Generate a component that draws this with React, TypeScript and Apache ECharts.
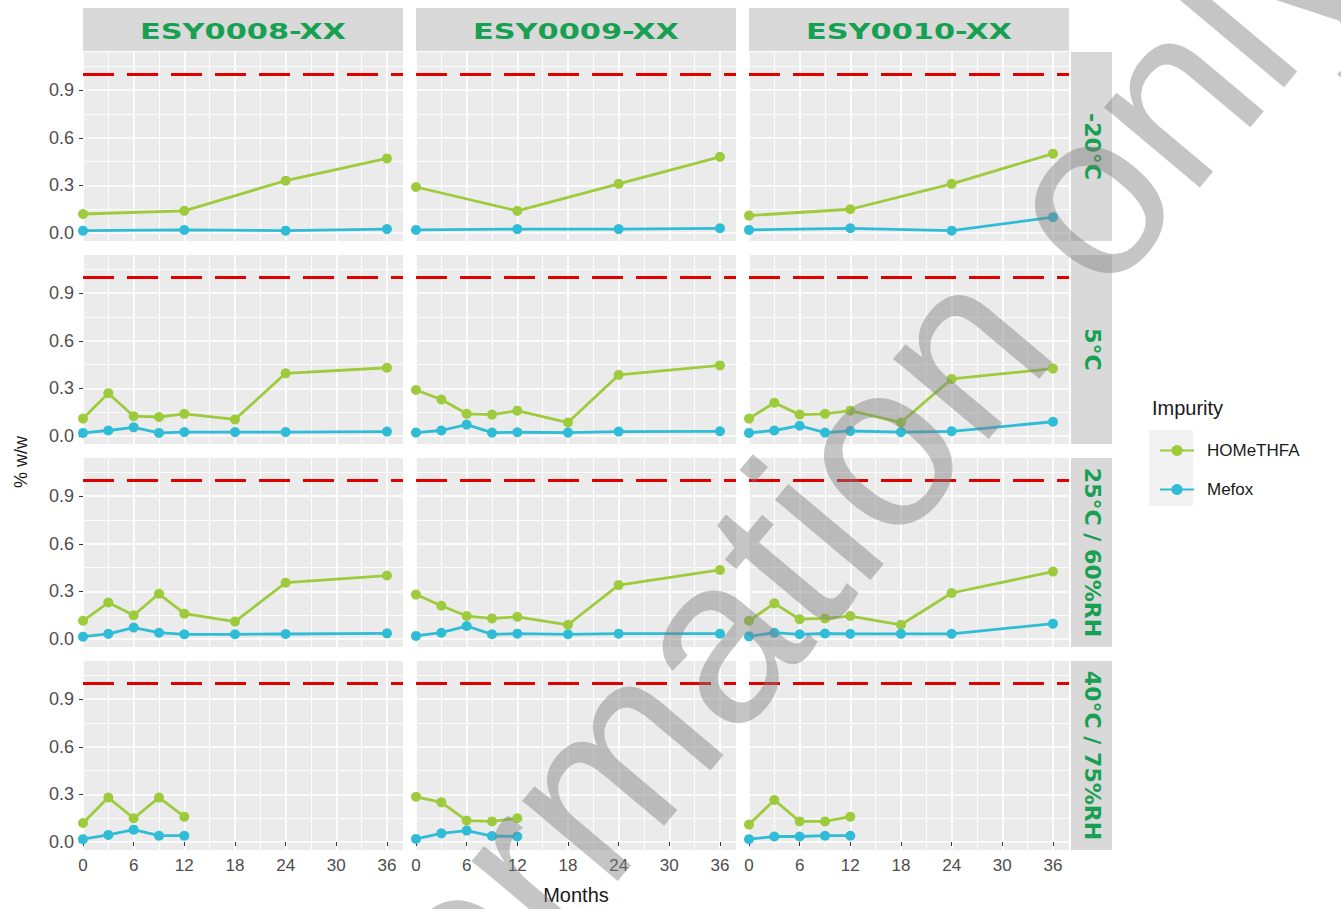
import React, { useEffect, useRef } from "react";
import * as echarts from "echarts";

// ---------- data ----------
const COLUMNS = ["ESY0008-XX", "ESY0009-XX", "ESY0010-XX"];
const ROWS = ["-20°C", "5°C", "25°C / 60%RH", "40°C / 75%RH"];
const SERIES_NAMES = ["HOMeTHFA", "Mefox"];
const LIMIT = 1.0;

const X_MAJOR = [0, 6, 12, 18, 24, 30, 36];
const X_MINOR = [3, 9, 15, 21, 27, 33];
const Y_MAJOR = [0, 0.3, 0.6, 0.9];
const Y_MINOR = [0.15, 0.45, 0.75, 1.05];

const MONTHS_FROZEN = [0, 12, 24, 36];
const MONTHS_FULL = [0, 3, 6, 9, 12, 18, 24, 36];
const MONTHS_ACCEL = [0, 3, 6, 9, 12];

// -20°C
const HOM_M20 = [
  [0.12, 0.14, 0.33, 0.47],
  [0.29, 0.14, 0.31, 0.48],
  [0.11, 0.15, 0.31, 0.5],
];
const MEF_M20 = [
  [0.015, 0.02, 0.015, 0.025],
  [0.02, 0.025, 0.025, 0.03],
  [0.02, 0.03, 0.015, 0.1],
];
// 5°C
const HOM_5 = [
  [0.11, 0.27, 0.125, 0.12, 0.14, 0.105, 0.395, 0.43],
  [0.29, 0.23, 0.14, 0.135, 0.16, 0.085, 0.385, 0.445],
  [0.11, 0.21, 0.135, 0.14, 0.16, 0.085, 0.36, 0.425],
];
const MEF_5 = [
  [0.02, 0.035, 0.055, 0.02, 0.025, 0.025, 0.025, 0.028],
  [0.022, 0.035, 0.072, 0.022, 0.024, 0.022, 0.028, 0.03],
  [0.02, 0.035, 0.065, 0.022, 0.032, 0.025, 0.03, 0.09],
];
// 25°C / 60%RH
const HOM_25 = [
  [0.115, 0.23, 0.15, 0.285, 0.16, 0.11, 0.355, 0.4],
  [0.28, 0.21, 0.145, 0.13, 0.14, 0.09, 0.34, 0.435],
  [0.115, 0.225, 0.125, 0.13, 0.145, 0.09, 0.29, 0.425],
];
const MEF_25 = [
  [0.015, 0.033, 0.072, 0.04, 0.03, 0.03, 0.032, 0.036],
  [0.02, 0.04, 0.082, 0.03, 0.034, 0.03, 0.034, 0.034],
  [0.017, 0.04, 0.03, 0.035, 0.033, 0.033, 0.033, 0.097],
];
// 40°C / 75%RH
const HOM_40 = [
  [0.12, 0.28, 0.15, 0.28, 0.16],
  [0.285, 0.25, 0.135, 0.13, 0.15],
  [0.11, 0.265, 0.13, 0.13, 0.16],
];
const MEF_40 = [
  [0.018, 0.045, 0.078, 0.04, 0.04],
  [0.02, 0.055, 0.072, 0.038, 0.035],
  [0.018, 0.035, 0.035, 0.04, 0.04],
];

const ROW_DATA = [
  { months: MONTHS_FROZEN, hom: HOM_M20, mef: MEF_M20 },
  { months: MONTHS_FULL, hom: HOM_5, mef: MEF_5 },
  { months: MONTHS_FULL, hom: HOM_25, mef: MEF_25 },
  { months: MONTHS_ACCEL, hom: HOM_40, mef: MEF_40 },
];

// ---------- layout / style ----------
const COL_LEFT = [83, 416, 749];
const ROW_TOP = [52, 255, 458, 661];
const PANEL_W = 320;
const PANEL_H = 189;
const X_MIN = 0;
const X_MAX = 37.9;
const Y_MIN = -0.05;
const Y_MAX = 1.14;

const GREEN = "#9DCB3C";
const CYAN = "#2FBCD7";
const STRIP_TEXT = "#17A052";
const FONT = "Liberation Sans";

function buildOption() {
  const grid: any[] = [];
  const xAxis: any[] = [];
  const yAxis: any[] = [];
  const series: any[] = [];
  const graphic: any[] = [];

  ROWS.forEach((rowName, r) => {
    COLUMNS.forEach((colName, c) => {
      const gi = r * 3 + c;
      grid.push({
        left: COL_LEFT[c],
        top: ROW_TOP[r],
        width: PANEL_W,
        height: PANEL_H,
        show: true,
        backgroundColor: "#EBEBEB",
        borderWidth: 0,
      });
      const showX = r === ROWS.length - 1;
      const showY = c === 0;
      xAxis.push({
        gridIndex: gi,
        type: "value",
        min: X_MIN,
        max: X_MAX,
        axisLine: { show: false },
        axisTick: {
          show: showX,
          length: 4,
          customValues: X_MAJOR,
          lineStyle: { color: "#333333", width: 1 },
        },
        axisLabel: {
          show: showX,
          customValues: X_MAJOR,
          color: "#4D4D4D",
          fontSize: 17,
          fontFamily: FONT,
          margin: 7,
        },
        splitLine: { show: true, lineStyle: { color: "#FFFFFF", width: 1.7 } },
      });
      xAxis.push({
        gridIndex: gi,
        type: "value",
        min: X_MIN,
        max: X_MAX,
        axisLine: { show: false },
        axisTick: { show: false, customValues: X_MINOR },
        axisLabel: { show: false },
        splitLine: { show: true, lineStyle: { color: "#FFFFFF", width: 0.9 } },
      });
      yAxis.push({
        gridIndex: gi,
        type: "value",
        min: Y_MIN,
        max: Y_MAX,
        axisLine: { show: false },
        axisTick: {
          show: showY,
          length: 4,
          customValues: Y_MAJOR,
          lineStyle: { color: "#333333", width: 1 },
        },
        axisLabel: {
          show: showY,
          customValues: Y_MAJOR,
          color: "#4D4D4D",
          fontSize: 18,
          fontFamily: FONT,
          margin: 9,
          formatter: (v: number) => v.toFixed(1),
        },
        splitLine: { show: true, lineStyle: { color: "#FFFFFF", width: 1.7 } },
      });
      yAxis.push({
        gridIndex: gi,
        type: "value",
        min: Y_MIN,
        max: Y_MAX,
        axisLine: { show: false },
        axisTick: { show: false, customValues: Y_MINOR },
        axisLabel: { show: false },
        splitLine: { show: true, lineStyle: { color: "#FFFFFF", width: 0.9 } },
      });

      const rd = ROW_DATA[r];
      series.push({
        type: "line",
        name: SERIES_NAMES[0],
        xAxisIndex: 2 * gi,
        yAxisIndex: 2 * gi,
        data: rd.months.map((m, i) => [m, rd.hom[c][i]]),
        symbol: "circle",
        symbolSize: 10,
        lineStyle: { color: GREEN, width: 2.8 },
        itemStyle: { color: GREEN },
        z: 3,
        markLine: {
          silent: true,
          symbol: "none",
          label: { show: false },
          lineStyle: { color: "#E00000", width: 3, type: [31, 13] },
          data: [{ yAxis: LIMIT }],
        },
      });
      series.push({
        type: "line",
        name: SERIES_NAMES[1],
        xAxisIndex: 2 * gi,
        yAxisIndex: 2 * gi,
        data: rd.months.map((m, i) => [m, rd.mef[c][i]]),
        symbol: "circle",
        symbolSize: 10,
        lineStyle: { color: CYAN, width: 2.8 },
        itemStyle: { color: CYAN },
        z: 4,
      });
    });
  });

  // top strips
  COLUMNS.forEach((name, c) => {
    graphic.push({
      type: "rect",
      shape: { x: COL_LEFT[c], y: 8, width: PANEL_W, height: 43 },
      style: { fill: "#D9D9D9" },
    });
    graphic.push({
      type: "text",
      x: COL_LEFT[c] + PANEL_W / 2,
      y: 31,
      scaleX: 1.38,
      style: {
        text: name,
        fill: STRIP_TEXT,
        fontSize: 22,
        fontWeight: "bold",
        fontFamily: "DejaVu Sans",
        align: "center",
        verticalAlign: "middle",
      },
    });
  });
  // right strips
  ROWS.forEach((name, r) => {
    graphic.push({
      type: "rect",
      shape: { x: 1071, y: ROW_TOP[r], width: 41, height: PANEL_H },
      style: { fill: "#D9D9D9" },
    });
    graphic.push({
      type: "text",
      x: 1092,
      y: ROW_TOP[r] + PANEL_H / 2,
      rotation: -Math.PI / 2,
      scaleX: 1.05,
      style: {
        text: name,
        fill: STRIP_TEXT,
        fontSize: 21,
        fontWeight: "bold",
        fontFamily: "DejaVu Sans",
        align: "center",
        verticalAlign: "middle",
      },
    });
  });
  // axis titles
  graphic.push({
    type: "text",
    x: 576,
    y: 895,
    style: {
      text: "Months",
      fill: "#1A1A1A",
      fontSize: 20,
      fontFamily: FONT,
      align: "center",
      verticalAlign: "middle",
    },
  });
  graphic.push({
    type: "text",
    x: 21,
    y: 462,
    rotation: Math.PI / 2,
    style: {
      text: "% w/w",
      fill: "#1A1A1A",
      fontSize: 18,
      fontFamily: FONT,
      align: "center",
      verticalAlign: "middle",
    },
  });
  // legend title and key background
  graphic.push({
    type: "text",
    x: 1152,
    y: 408,
    style: {
      text: "Impurity",
      fill: "#1A1A1A",
      fontSize: 20,
      fontFamily: FONT,
      align: "left",
      verticalAlign: "middle",
    },
  });
  graphic.push({
    type: "rect",
    shape: { x: 1149, y: 430, width: 44, height: 38 },
    style: { fill: "#F2F2F2" },
  });
  graphic.push({
    type: "rect",
    shape: { x: 1149, y: 468, width: 44, height: 38 },
    style: { fill: "#F2F2F2" },
  });
  // watermark
  graphic.push({
    type: "text",
    x: 650,
    y: 715,
    rotation: (50 * Math.PI) / 180,
    z: 100,
    silent: true,
    style: {
      text: "For information only",
      fill: "#7F7F7F",
      opacity: 0.45,
      fontSize: 236,
      fontFamily: FONT,
      align: "center",
      verticalAlign: "middle",
    },
  });

  return {
    animation: false,
    backgroundColor: "#FFFFFF",
    grid,
    xAxis,
    yAxis,
    series,
    graphic,
    legend: {
      data: SERIES_NAMES,
      orient: "vertical",
      left: 1154,
      top: 437,
      itemWidth: 34,
      itemHeight: 14,
      itemGap: 22,
      selectedMode: false,
      textStyle: {
        fontSize: 17,
        color: "#1A1A1A",
        fontFamily: FONT,
        padding: [0, 0, 0, 8],
      },
    },
  };
}

export default function App() {
  const ref = useRef<HTMLDivElement>(null);
  useEffect(() => {
    if (!ref.current) return;
    const chart = echarts.init(ref.current, null, { renderer: "svg" });
    chart.setOption(buildOption() as any);
    return () => chart.dispose();
  }, []);
  return (
    <div
      ref={ref}
      style={{ position: "absolute", left: 0, top: 0, width: 1341, height: 909 }}
    />
  );
}
